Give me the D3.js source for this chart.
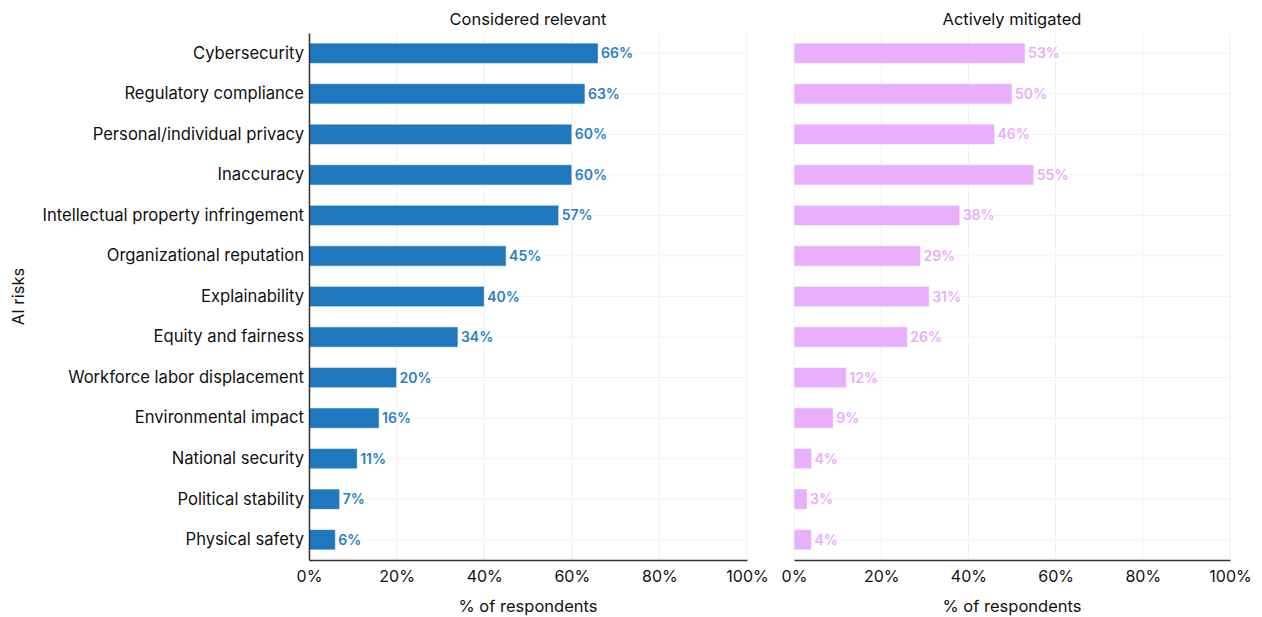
<!DOCTYPE html>
<html>
<head>
<meta charset="utf-8">
<script src="https://cdn.jsdelivr.net/npm/d3@7"></script>
<style>
  body { margin: 0; background: #fff; }
  text { font-family: "Inter", "Lato", sans-serif; fill: #111; }
</style>
</head>
<body>
<script>
// AI risk categories and values (% of respondents)
const risks = [
  "Cybersecurity", "Regulatory compliance", "Personal/individual privacy", "Inaccuracy",
  "Intellectual property infringement", "Organizational reputation", "Explainability",
  "Equity and fairness", "Workforce labor displacement", "Environmental impact",
  "National security", "Political stability", "Physical safety"
];
const relevant = [66, 63, 60, 60, 57, 45, 40, 34, 20, 16, 11, 7, 6];
const mitigated = [53, 50, 46, 55, 38, 29, 31, 26, 12, 9, 4, 3, 4];
const xTicks = [0, 20, 40, 60, 80, 100];

const width = 1262, height = 617;
const font = "Inter, Lato, sans-serif";
const svg = d3.select("body").append("svg")
  .attr("width", width)
  .attr("height", height);

const plotTop = 33, plotBottom = 560;

const y = d3.scaleBand()
  .domain(risks)
  .range([plotTop, plotBottom])
  .paddingInner(0.5)
  .paddingOuter(0.25);

const panels = [
  { title: "Considered relevant", values: relevant, x0: 309, x1: 747, color: "#1f78bd", label: "#2a80c6", leftAxis: true },
  { title: "Actively mitigated", values: mitigated, x0: 794, x1: 1230, color: "#e9aefc", label: "#e9aefc", leftAxis: false }
];

panels.forEach(p => {
  const x = d3.scaleLinear().domain([0, 100]).range([p.x0, p.x1]);
  const g = svg.append("g");

  // vertical grid
  g.selectAll(".vgrid")
    .data(xTicks)
    .enter().append("line")
    .attr("x1", d => x(d)).attr("x2", d => x(d))
    .attr("y1", plotTop).attr("y2", plotBottom)
    .style("stroke", "#f0f0f0")
    .style("stroke-width", 1);

  // horizontal grid
  g.selectAll(".hgrid")
    .data(risks)
    .enter().append("line")
    .attr("x1", p.x0).attr("x2", p.x1)
    .attr("y1", d => y(d) + y.bandwidth() / 2)
    .attr("y2", d => y(d) + y.bandwidth() / 2)
    .style("stroke", "#f3f3f3")
    .style("stroke-width", 1);

  // bars
  g.selectAll(".bar")
    .data(p.values)
    .enter().append("rect")
    .attr("x", x(0))
    .attr("y", (d, i) => y(risks[i]))
    .attr("width", d => x(d) - x(0))
    .attr("height", y.bandwidth())
    .attr("fill", p.color)
    .style("stroke", "#ffffff")
    .style("stroke-opacity", 0.5)
    .style("stroke-width", 1);

  // value labels
  g.selectAll(".val")
    .data(p.values)
    .enter().append("text")
    .attr("x", d => x(d) + 3)
    .attr("y", (d, i) => y(risks[i]) + y.bandwidth() / 2)
    .attr("dy", "0.36em")
    .style("font-size", "14px")
    .style("font-weight", "600")
    .style("fill", p.label)
    .text(d => d + "%");

  // bottom axis
  const xAxis = d3.axisBottom(x)
    .tickValues(xTicks)
    .tickFormat(d => d + "%")
    .tickSize(0)
    .tickPadding(11);
  const ax = g.append("g")
    .attr("transform", `translate(0,${plotBottom})`)
    .call(xAxis);
  ax.select(".domain").style("stroke", "#333").style("stroke-width", 1.5);
  ax.selectAll("text")
    .style("font-size", "16px")
    .style("font-family", font)
    .style("fill", "#111");

  if (p.leftAxis) {
    const yAxis = d3.axisLeft(y).tickSize(0).tickPadding(5);
    const ay = g.append("g")
      .attr("transform", `translate(${p.x0},0)`)
      .call(yAxis);
    ay.select(".domain").style("stroke", "#333").style("stroke-width", 1.5);
    ay.selectAll("text")
      .style("font-size", "16.6px")
      .style("font-family", font)
      .style("fill", "#111");
  }

  // panel title
  g.append("text")
    .attr("x", (p.x0 + p.x1) / 2)
    .attr("y", 25)
    .attr("text-anchor", "middle")
    .style("font-size", "16.5px")
    .text(p.title);

  // x axis title
  g.append("text")
    .attr("x", (p.x0 + p.x1) / 2)
    .attr("y", 612)
    .attr("text-anchor", "middle")
    .style("font-size", "16.5px")
    .text("% of respondents");
});

// y axis title
svg.append("text")
  .attr("transform", `translate(24,${(plotTop + plotBottom) / 2}) rotate(-90)`)
  .attr("text-anchor", "middle")
  .style("font-size", "16.5px")
  .text("AI risks");
</script>
</body>
</html>
